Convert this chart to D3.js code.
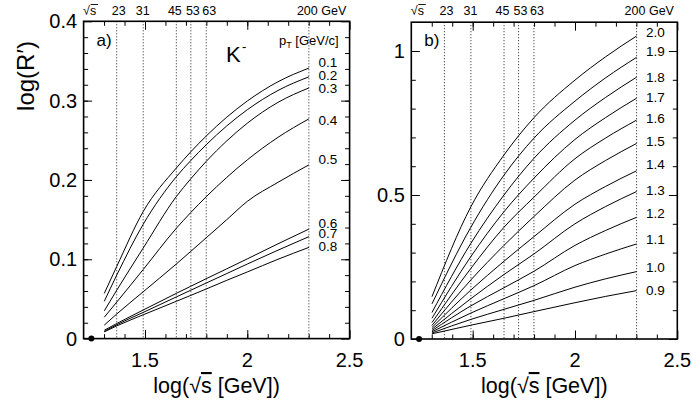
<!DOCTYPE html>
<html><head><meta charset="utf-8">
<script src="https://cdn.jsdelivr.net/npm/d3@7"></script>
<style>
html,body{margin:0;padding:0;background:#fff;}
svg text{font-family:"Liberation Sans",Arial,Helvetica,sans-serif;fill:#000;}
</style></head>
<body><svg id="c" width="692" height="406"></svg>
<script>
// ---------- data ----------
const energies = [23, 31, 45, 53, 63, 200];            // GeV, dotted lines / top labels
const refPointX = 1.238;                                // log(sqrt s) of reference point (17.3 GeV)

// panel a) K-, pT = 0.1 ... 0.8 GeV/c
const xA = [1.301, 1.362, 1.491, 1.653, 1.724, 1.799, 1.9, 2.0, 2.15, 2.301];
const ptA = ["0.1","0.2","0.3","0.4","0.5","0.6","0.7","0.8"];
const pt01 = [0.057, 0.091, 0.160, 0.215, 0.2355, 0.2553, 0.2792, 0.2995, 0.3238, 0.341];
const pt02 = [0.047, 0.080, 0.144, 0.204, 0.2245, 0.2443, 0.2682, 0.2885, 0.3128, 0.330];
const pt03 = [0.035, 0.061, 0.114, 0.179, 0.2015, 0.2233, 0.2493, 0.2715, 0.2978, 0.316];
const pt04 = [0.027, 0.046, 0.087, 0.139, 0.159, 0.1788, 0.2033, 0.2253, 0.2537, 0.277];
const pt05 = [0.017, 0.031, 0.059, 0.094, 0.110, 0.127, 0.150, 0.173, 0.197, 0.219];
const pt06 = [0.0105, 0.019, 0.036, 0.057, 0.066, 0.0755, 0.088, 0.1005, 0.1195, 0.138];
const pt07 = [0.009, 0.0175, 0.033, 0.0525, 0.061, 0.070, 0.082, 0.094, 0.1115, 0.1285];
const pt08 = [0.0085, 0.016, 0.030, 0.047, 0.0545, 0.0625, 0.0735, 0.084, 0.100, 0.115];
const labelYA = [0.349, 0.332, 0.316, 0.275, 0.226, 0.146, 0.133, 0.116];

// panel b) pT = 0.9 ... 2.0 GeV/c
const xB = [1.301, 1.491, 1.653, 1.799, 2.0, 2.15, 2.301];
const ptB = ["2.0","1.9","1.8","1.7","1.6","1.5","1.4","1.3","1.2","1.1","1.0","0.9"];
const pt20 = [0.147, 0.459, 0.639, 0.768, 0.899, 0.980, 1.052];
const pt19 = [0.122, 0.388, 0.569, 0.697, 0.826, 0.907, 0.978];
const pt18 = [0.092, 0.332, 0.500, 0.627, 0.760, 0.839, 0.909];
const pt17 = [0.072, 0.286, 0.442, 0.558, 0.693, 0.769, 0.836];
const pt16 = [0.057, 0.245, 0.388, 0.492, 0.626, 0.698, 0.760];
const pt15 = [0.047, 0.205, 0.325, 0.425, 0.552, 0.620, 0.679];
const pt14 = [0.040, 0.170, 0.270, 0.355, 0.468, 0.530, 0.584];
const pt13 = [0.034, 0.140, 0.224, 0.295, 0.400, 0.460, 0.512];
const pt12 = [0.029, 0.115, 0.178, 0.235, 0.325, 0.377, 0.4225];
const pt11 = [0.025, 0.090, 0.140, 0.185, 0.255, 0.295, 0.330];
const pt10 = [0.021, 0.068, 0.103, 0.134, 0.180, 0.209, 0.234];
const pt09 = [0.018, 0.048, 0.072, 0.095, 0.126, 0.148, 0.168];
const labelYB = [1.067, 1.001, 0.909, 0.841, 0.766, 0.686, 0.606, 0.515, 0.436, 0.346, 0.251, 0.170];

const seriesA = [pt01, pt02, pt03, pt04, pt05, pt06, pt07, pt08];
const seriesB = [pt20, pt19, pt18, pt17, pt16, pt15, pt14, pt13, pt12, pt11, pt10, pt09];

// ---------- drawing ----------
const svg = d3.select("#c");
const energyDx = {23: 2, 31: -0.5, 45: -1.5, 53: 2, 63: 3};

function panel(opt){
  const g = svg.append("g");
  const x = d3.scaleLinear().domain([1.2, 2.5]).range([opt.x0, opt.x1]);
  const y = d3.scaleLinear().domain([0, opt.ymax]).range([opt.y0, opt.y1]);

  // dotted energy lines
  g.selectAll("line.en").data(energies).join("line")
    .attr("x1", d => x(Math.log10(d))).attr("x2", d => x(Math.log10(d)))
    .attr("y1", opt.y1).attr("y2", opt.y0)
    .attr("stroke", "#222").attr("stroke-width", 1).attr("stroke-dasharray", "1,2");

  // curves
  const line = d3.line().x((d,i) => x(opt.xs[i])).y(d => y(d)).curve(d3.curveMonotoneX);
  g.selectAll("path.c").data(opt.series).join("path")
    .attr("d", d => line(d)).attr("fill", "none").attr("stroke", "#000").attr("stroke-width", 1);

  // ticks (inward on all four sides)
  const xMaj = [1.5, 2.0, 2.5], xMin = d3.range(13, 25).map(v => v/10);
  const mk = (axis, tr) => g.append("g").attr("transform", tr).call(axis).call(s => {
      s.select(".domain").remove();
      s.selectAll("line").attr("stroke", "#000");
      s.selectAll("text").remove();
    });
  mk(d3.axisBottom(x).tickValues(xMin).tickSize(-4.5), `translate(0,${opt.y0})`);
  mk(d3.axisBottom(x).tickValues(xMaj).tickSize(-8.5), `translate(0,${opt.y0})`);
  mk(d3.axisTop(x).tickValues(xMin).tickSize(-4.5), `translate(0,${opt.y1})`);
  mk(d3.axisTop(x).tickValues(xMaj).tickSize(-8.5), `translate(0,${opt.y1})`);
  mk(d3.axisLeft(y).tickValues(opt.yMin).tickSize(-4.5), `translate(${opt.x0},0)`);
  mk(d3.axisLeft(y).tickValues(opt.yMaj).tickSize(-8.5), `translate(${opt.x0},0)`);
  mk(d3.axisRight(y).tickValues(opt.yMin).tickSize(-4.5), `translate(${opt.x1},0)`);
  mk(d3.axisRight(y).tickValues(opt.yMaj).tickSize(-8.5), `translate(${opt.x1},0)`);

  // frame
  g.append("rect").attr("x", opt.x0).attr("y", opt.y1)
    .attr("width", opt.x1 - opt.x0).attr("height", opt.y0 - opt.y1)
    .attr("fill", "none").attr("stroke", "#000").attr("stroke-width", 1.6);

  // tick labels
  g.selectAll("text.xl").data(xMaj).join("text")
    .attr("x", d => x(d)).attr("y", opt.y0 + 28).attr("text-anchor", "middle")
    .attr("font-size", 20).text(d => d3.format("")(d));
  g.selectAll("text.yl").data(opt.yMaj).join("text")
    .attr("x", opt.x0 - 6.5).attr("y", d => y(d) + 7).attr("text-anchor", "end")
    .attr("font-size", 20).text(d => d === 0 ? "0" : opt.yFmt(d));

  // reference point
  g.append("circle").attr("cx", x(refPointX)).attr("cy", y(0)).attr("r", 3).attr("fill", "#000");

  // top energy labels
  energies.forEach(e => {
    const t = g.append("text").attr("y", 15).attr("font-size", 12.5);
    if (e === 200) { t.attr("x", x(Math.log10(e)) - 12).attr("text-anchor", "start").text("200 GeV"); }
    else t.attr("x", x(Math.log10(e)) + energyDx[e]).attr("text-anchor", "middle").text(e);
  });
  g.append("text").attr("x", opt.x0 - 0.5).attr("y", 15).attr("font-size", 12.5).text("\u221As");
  g.append("line").attr("x1", opt.x0 + 7).attr("x2", opt.x0 + 14.5).attr("y1", 4.5).attr("y2", 4.5)
    .attr("stroke", "#000").attr("stroke-width", 0.9);

  // curve labels
  g.selectAll("text.cl").data(opt.labels).join("text")
    .attr("x", x(2.301) + opt.labDx).attr("y", (d,i) => y(opt.labelY[i]) + 4.8)
    .attr("font-size", 13.5).text(d => d);

  // panel tag
  g.append("text").attr("x", opt.x0 + 13).attr("y", 46).attr("font-size", 17).text(opt.tag);

  // x axis title
  const xt = g.append("text").attr("x", (opt.x0 + opt.x1)/2).attr("y", 393)
    .attr("text-anchor", "middle").attr("font-size", 21.5);
  xt.append("tspan").text("log(\u221A");
  xt.append("tspan").attr("text-decoration", "overline").text("s");
  xt.append("tspan").text(" [GeV])");
  return {g, x, y};
}

const A = panel({x0: 83.6, x1: 349.6, y0: 338.6, y1: 21.3, ymax: 0.4,
  xs: xA, series: seriesA, labels: ptA, labelY: labelYA, labDx: 9.5,
  yMaj: [0, 0.1, 0.2, 0.3, 0.4], yMin: d3.range(1, 20).map(v => v*0.02),
  yFmt: d3.format(".1f"), tag: "a)"});

const B = panel({x0: 411.3, x1: 677.3, y0: 339, y1: 22.2, ymax: 1.1,
  xs: xB, series: seriesB, labels: ptB, labelY: labelYB, labDx: 9.5,
  yMaj: [0, 0.5, 1], yMin: d3.range(1, 11).map(v => v*0.1),
  yFmt: d3.format(""), tag: "b)"});

// K- and pT header in panel a
A.g.append("text").attr("x", 226).attr("y", 62).attr("font-size", 22).text("K");
A.g.append("text").attr("x", 242).attr("y", 51).attr("font-size", 13).text("-");
const pt = A.g.append("text").attr("x", 279).attr("y", 45).attr("font-size", 13);
pt.append("tspan").text("p");
pt.append("tspan").attr("font-size", 9).attr("dy", 3).text("T");
pt.append("tspan").attr("dy", -3).text(" [GeV/c]");

// y axis title
svg.append("text").attr("transform", "translate(34,76) rotate(-90)")
  .attr("text-anchor", "middle").attr("font-size", 24).text("log(R\u2032)");
</script></body></html>
